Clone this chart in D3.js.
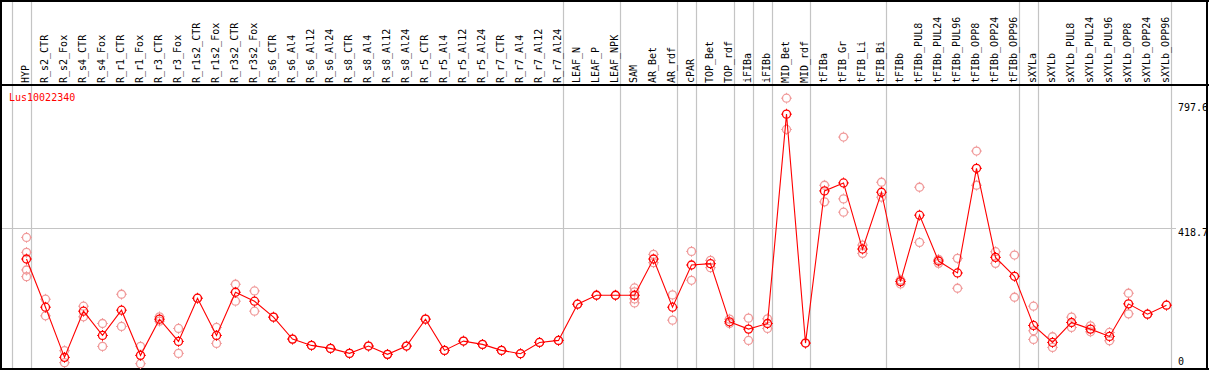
<!DOCTYPE html>
<html>
<head>
<meta charset="utf-8">
<script src="https://cdn.jsdelivr.net/npm/d3@7"></script>
<style>
  body { margin: 0; background: #fff; }
  svg { display: block; }
  text { font-family: "DejaVu Sans Mono", monospace; font-size: 10px; }
</style>
</head>
<body>
<svg id="chart" width="1209" height="370"></svg>
<script>
// sample names along the top
const categories = [
  "HYP", "R_s2_CTR", "R_s2_Fox", "R_s4_CTR", "R_s4_Fox", "R_r1_CTR", "R_r1_Fox",
  "R_r3_CTR", "R_r3_Fox", "R_r1s2_CTR", "R_r1s2_Fox", "R_r3s2_CTR", "R_r3s2_Fox",
  "R_s6_CTR", "R_s6_Al4", "R_s6_Al12", "R_s6_Al24", "R_s8_CTR", "R_s8_Al4",
  "R_s8_Al12", "R_s8_Al24", "R_r5_CTR", "R_r5_Al4", "R_r5_Al12", "R_r5_Al24",
  "R_r7_CTR", "R_r7_Al4", "R_r7_Al12", "R_r7_Al24", "LEAF_N", "LEAF_P", "LEAF_NPK",
  "SAM", "AR_Bet", "AR_rdf", "cPAR", "TOP_Bet", "TOP_rdf", "iFIBa", "iFIBb",
  "MID_Bet", "MID_rdf", "tFIBa", "tFIB_Gr", "tFIB_Li", "tFIB_Bi", "tFIBb",
  "tFIBb_PUL8", "tFIBb_PUL24", "tFIBb_PUL96", "tFIBb_OPP8", "tFIBb_OPP24", "tFIBb_OPP96",
  "sXYLa", "sXYLb", "sXYLb_PUL8", "sXYLb_PUL24", "sXYLb_PUL96", "sXYLb_OPP8",
  "sXYLb_OPP24", "sXYLb_OPP96"
];

// mean expression per sample
const meanValues = [
  325, 180, 29, 168, 95, 171, 35, 144, 77, 207, 95, 225, 198,
  150, 84, 65, 56, 41, 63, 38, 63, 144, 50, 78, 68, 50, 40, 74, 80,
  189, 216, 216, 216, 325, 180, 307, 311, 136, 114, 131, 761, 72,
  530, 554, 355, 526, 257, 457, 319, 283, 598, 330, 273,
  125, 74, 134, 114, 92, 190, 159, 186
];

// replicate values (lighter circles)
const replicates = [
  [390, 345, 292, 272], [204, 154], [49, 13], [183, 151], [131, 62], [219, 122],
  [62, 10], [151, 138], [116, 41], [207], [119, 71], [249, 198], [229, 168],
  [150], [84], [65], [56], [41], [63], [38], [63], [144], [50], [78], [68],
  [50], [40], [74], [80], [189], [216], [216],
  [238, 226, 205, 193], [339, 314], [217, 141], [348, 261], [321, 299], [144, 131],
  [147, 80], [145, 116], [809, 715], [72], [547, 497], [692, 506, 466], [367, 342],
  [556, 511], [262, 250], [541, 375], [324, 312], [327, 237], [650, 547], [347, 312],
  [337, 210], [183, 109, 83], [91, 59], [150, 119], [124, 106], [104, 79], [222, 160],
  [159], [186]
];

// gray separators fall right after these samples
const groupEnds = [
  "HYP", "R_r7_Al24", "LEAF_NPK", "AR_rdf", "cPAR", "TOP_rdf", "iFIBa", "iFIBb",
  "MID_rdf", "tFIB_Bi", "tFIBb_OPP96", "sXYLa", "sXYLb_OPP96"
];

const geneName = "Lus10022340";
const yTicks = [797.6, 418.7, 0];
const yGrid = [418.7];

const W = 1209, H = 370;
const headerBottom = 85, plotBottom = 367;

const svg = d3.select("#chart");

const x = d3.scalePoint().domain(categories).range([26.5, 1166.5]);
const step = x.step();
const y = d3.scaleLinear().domain([0, 797.6]).range([plotBottom, 102]);

// vertical separators (leading one + after each group)
const sepX = [x(categories[0]) - step + 4.5].concat(groupEnds.map(c => x(c) + 4.5));
svg.append("g").selectAll("line").data(sepX).join("line")
  .attr("x1", d => Math.round(d) + 0.5).attr("x2", d => Math.round(d) + 0.5)
  .attr("y1", 0).attr("y2", H)
  .attr("stroke", "#c4c4c4").attr("stroke-width", 1.2);

// horizontal grid
svg.append("g").selectAll("line").data(yGrid).join("line")
  .attr("x1", 2).attr("x2", 1176)
  .attr("y1", d => Math.round(y(d)) + 0.5).attr("y2", d => Math.round(y(d)) + 0.5)
  .attr("stroke", "#c4c4c4").attr("stroke-width", 1.2);

// borders
const border = svg.append("g").attr("stroke", "#000").attr("stroke-width", 2);
border.append("line").attr("x1", 0).attr("x2", W).attr("y1", 1).attr("y2", 1);
border.append("line").attr("x1", 0).attr("x2", W).attr("y1", headerBottom).attr("y2", headerBottom);
border.append("line").attr("x1", 0).attr("x2", W).attr("y1", H - 1).attr("y2", H - 1);
border.append("line").attr("x1", 1).attr("x2", 1).attr("y1", 0).attr("y2", H);
border.append("line").attr("x1", W - 2).attr("x2", W - 2).attr("y1", 0).attr("y2", H);

// rotated sample labels
svg.append("g").selectAll("text").data(categories).join("text")
  .attr("transform", d => `translate(${x(d) + 2},83) rotate(-90)`)
  .attr("fill", "#000")
  .text(d => d);

// gene name
svg.append("text").attr("x", 9).attr("y", 101).attr("fill", "#f00").text(geneName);

// right value labels
svg.append("g").selectAll("text").data(yTicks).join("text")
  .attr("x", 1178)
  .attr("y", d => Math.min(y(d) + 8.5, 365))
  .attr("fill", "#000")
  .text(d => d);

function marker(g, color) {
  g.append("circle").attr("r", 4).attr("fill", "none")
    .attr("stroke", color).attr("stroke-width", 1.3);
  [[0, -4], [0, 4], [-4, 0], [4, 0]].forEach(([dx, dy]) => {
    g.append("line")
      .attr("x1", dx * 1.05).attr("y1", dy * 1.05)
      .attr("x2", dx * 1.35).attr("y2", dy * 1.35)
      .attr("stroke", color).attr("stroke-width", 1);
  });
}

// replicate circles
const reps = [];
replicates.forEach((arr, i) => arr.forEach(v => reps.push({ c: categories[i], v })));
svg.append("g").selectAll("g").data(reps).join("g")
  .attr("transform", d => `translate(${x(d.c)},${y(d.v)})`)
  .each(function () { marker(d3.select(this), "#f09a9a"); });

// mean line
const meanPts = categories.map((c, i) => ({ c, v: meanValues[i] }));
svg.append("path").datum(meanPts)
  .attr("fill", "none").attr("stroke", "#f00").attr("stroke-width", 1.1)
  .attr("d", d3.line().x(d => x(d.c)).y(d => y(d.v)));

svg.append("g").selectAll("g").data(meanPts).join("g")
  .attr("transform", d => `translate(${x(d.c)},${y(d.v)})`)
  .each(function () { marker(d3.select(this), "#f00"); });
</script>
</body>
</html>
